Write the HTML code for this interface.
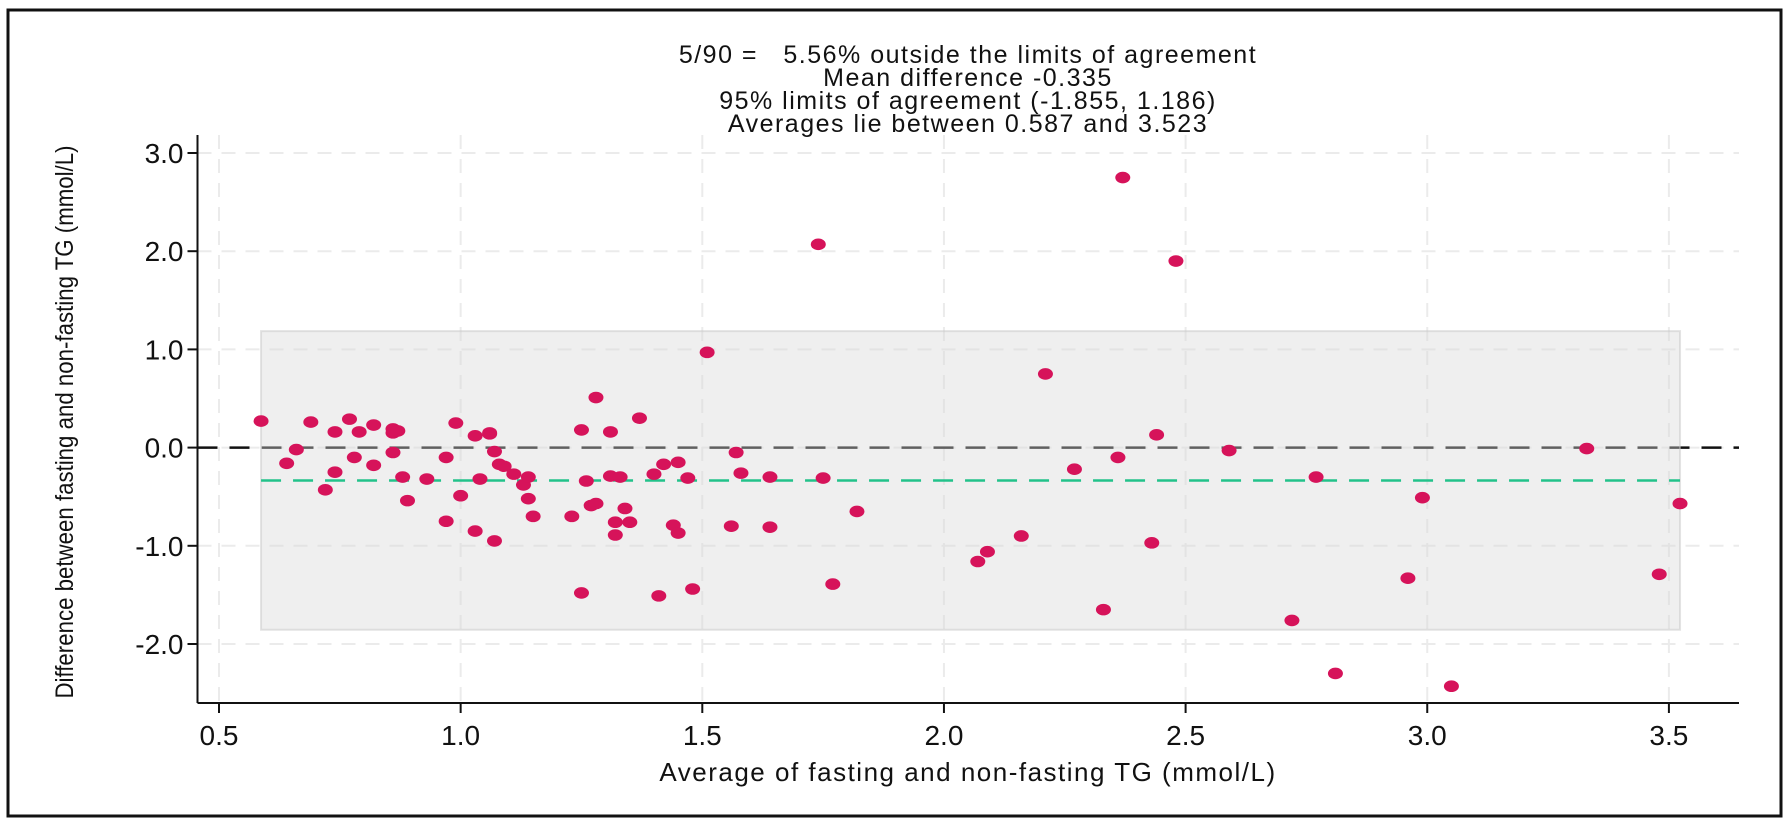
<!DOCTYPE html>
<html><head><meta charset="utf-8"><style>
html,body{margin:0;padding:0;background:#fff;}
svg{display:block;}
text{font-family:"Liberation Sans",sans-serif;fill:#111;}
.tt{letter-spacing:1.5px;}
</style></head><body>
<svg id="chart" width="1790" height="824" viewBox="0 0 1790 824">
<rect x="8" y="10" width="1773" height="806" fill="#fff" stroke="#111" stroke-width="3"/>
<g>
<text class="tt" x="968" y="63" text-anchor="middle" font-size="25" xml:space="preserve">5/90 =   5.56% outside the limits of agreement</text>
<text class="tt" x="968" y="86" text-anchor="middle" font-size="25">Mean difference -0.335</text>
<text class="tt" x="968" y="109" text-anchor="middle" font-size="25">95% limits of agreement (-1.855, 1.186)</text>
<text class="tt" x="968" y="132" text-anchor="middle" font-size="25">Averages lie between 0.587 and 3.523</text>
</g>
<g id="grid"></g>
<g id="ref"></g>
<g id="pts"></g>
<g id="axes"></g>
<text class="tt" x="968" y="781" text-anchor="middle" font-size="26">Average of fasting and non-fasting TG (mmol/L)</text>
<text transform="translate(73 422) rotate(-90) scale(0.89 1)" text-anchor="middle" font-size="25">Difference between fasting and non-fasting TG (mmol/L)</text>
</svg>
<script>
const xTicks=[0.5,1.0,1.5,2.0,2.5,3.0,3.5];
const yTicks=[-2.0,-1.0,0.0,1.0,2.0,3.0];
const meanDiff=-0.335;
const loaLower=-1.855;
const loaUpper=1.186;
const avgMin=0.587;
const avgMax=3.523;
const xVals=[0.587,0.64,0.66,0.69,0.72,0.74,0.74,0.77,0.78,0.79,0.82,0.82,0.86,0.86,0.86,0.87,0.88,0.89,0.93,0.97,0.97,0.99,1.0,1.03,1.03,1.04,1.06,1.06,1.07,1.07,1.08,1.09,1.11,1.13,1.14,1.14,1.15,1.23,1.25,1.25,1.26,1.27,1.28,1.28,1.31,1.31,1.32,1.32,1.33,1.34,1.35,1.37,1.4,1.41,1.42,1.44,1.45,1.45,1.47,1.48,1.51,1.56,1.57,1.58,1.64,1.64,1.74,1.75,1.77,1.82,2.07,2.09,2.16,2.21,2.27,2.33,2.36,2.37,2.43,2.44,2.48,2.59,2.72,2.77,2.81,2.96,2.99,3.05,3.33,3.48,3.523];
const yVals=[0.27,-0.16,-0.02,0.26,-0.43,0.16,-0.25,0.29,-0.1,0.16,0.23,-0.18,0.19,0.15,-0.05,0.17,-0.3,-0.54,-0.32,-0.1,-0.75,0.25,-0.49,0.12,-0.85,-0.32,0.14,0.15,-0.04,-0.95,-0.17,-0.19,-0.27,-0.38,-0.3,-0.52,-0.7,-0.7,-1.48,0.18,-0.34,-0.59,-0.57,0.51,-0.29,0.16,-0.89,-0.76,-0.3,-0.62,-0.76,0.3,-0.27,-1.51,-0.17,-0.79,-0.15,-0.87,-0.31,-1.44,0.97,-0.8,-0.05,-0.26,-0.3,-0.81,2.07,-0.31,-1.39,-0.65,-1.16,-1.06,-0.9,0.75,-0.22,-1.65,-0.1,2.75,-0.97,0.13,1.9,-0.03,-1.76,-0.3,-2.3,-1.33,-0.51,-2.43,-0.01,-1.29,-0.57];
const NS='http://www.w3.org/2000/svg';
const X0=197.5,X1=1739,Y0=703,YT=135;
function sx(v){return 219+(v-0.5)*483.3;}
function sy(v){return 447.6-v*98.2;}
function mk(tag,attrs,parent){const e=document.createElementNS(NS,tag);for(const k in attrs)e.setAttribute(k,attrs[k]);parent.appendChild(e);return e;}
const grid=document.getElementById('grid'),ref=document.getElementById('ref'),pts=document.getElementById('pts'),axes=document.getElementById('axes');
xTicks.forEach(t=>{const l=mk('line',{x1:sx(t),x2:sx(t),y1:YT,y2:Y0,stroke:'#ebebeb','stroke-width':2,'stroke-dasharray':'14 10'},grid);

});
yTicks.forEach(t=>{const l=mk('line',{x1:X0,x2:X1,y1:sy(t),y2:sy(t),stroke:'#ebebeb','stroke-width':2,'stroke-dasharray':'14 10'},grid);

});
const z=mk('line',{x1:X0,x2:X1,y1:sy(0),y2:sy(0),stroke:'#111','stroke-width':2.5,'stroke-dasharray':'20 12'},ref);


const band=mk('rect',{x:sx(avgMin),y:sy(loaUpper),width:sx(avgMax)-sx(avgMin),height:sy(loaLower)-sy(loaUpper),fill:'rgba(215,215,215,0.4)',stroke:'rgba(200,200,200,0.5)','stroke-width':2},ref);


const m=mk('line',{x1:sx(avgMin),x2:sx(avgMax),y1:sy(meanDiff),y2:sy(meanDiff),stroke:'#22c28a','stroke-width':2.5,'stroke-dasharray':'20 12'},ref);


xVals.forEach((v,i)=>{const c=mk('ellipse',{cx:sx(v),cy:sy(yVals[i]),rx:7.5,ry:5.8,fill:'#d6135a'},pts);

});
const xa=mk('line',{x1:X0,x2:X1,y1:Y0,y2:Y0,stroke:'#111','stroke-width':2},axes);


const ya=mk('line',{x1:X0,x2:X0,y1:YT,y2:Y0,stroke:'#111','stroke-width':2},axes);


xTicks.forEach(t=>{const tk=mk('line',{x1:sx(t),x2:sx(t),y1:Y0,y2:Y0+10,stroke:'#111','stroke-width':2},axes);


const tx=mk('text',{x:sx(t),y:Y0+42,'text-anchor':'middle','font-size':28},axes);tx.textContent=t.toFixed(1);

});
yTicks.forEach(t=>{const tk=mk('line',{x1:X0-10,x2:X0,y1:sy(t),y2:sy(t),stroke:'#111','stroke-width':2},axes);


const tx=mk('text',{x:X0-14,y:sy(t)+10,'text-anchor':'end','font-size':28},axes);tx.textContent=t.toFixed(1);

});
</script>
</body></html>
